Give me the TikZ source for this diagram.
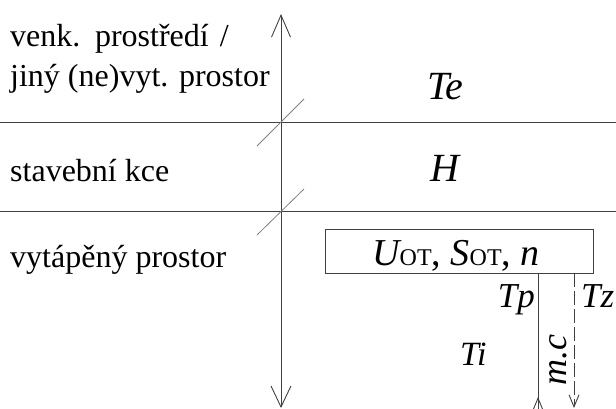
\documentclass[tikz,border=0pt]{standalone}
\usepackage{fontspec}
\newfontfamily\libser{Liberation Serif}
\usetikzlibrary{arrows.meta}
\newcommand\iv[2]{{\libser\itshape\fontsize{#1}{#1}\selectfont #2}}
\tikzset{
  ln/.style={draw=black!75, line width=0.9pt},
  slash/.style={draw=black!50, line width=0.8pt},
  lbl/.style={font=\libser\fontsize{32}{32}\selectfont, anchor=base west, inner sep=0pt},
  var/.style={inner sep=0pt}
}
\begin{document}
\begin{tikzpicture}[x=1pt,y=-1pt]
\useasboundingbox (0,0) rectangle (616,409);
% axis
\coordinate (atop) at (281,14);
\coordinate (abot) at (281,408);
\draw[ln, {Straight Barb[length=22pt,width=19pt]}-{Straight Barb[length=21pt,width=20pt]}] (atop) -- (abot);
% horizontal lines
\coordinate (h1w) at (0,122); \coordinate (h1e) at (616,122);
\coordinate (h2w) at (0,211); \coordinate (h2e) at (616,211);
\draw[ln] (h1w) -- (h1e);
\draw[ln] (h2w) -- (h2e);
% slashes
\coordinate (s1a) at (257,146); \coordinate (s1b) at (304,99);
\coordinate (s2a) at (257,235); \coordinate (s2b) at (304,189);
\draw[slash] (s1a) -- (s1b);
\draw[slash] (s2a) -- (s2b);
% left labels
\node[lbl] (l1) at (10,47) {venk.\hspace{4pt} prostředí\hspace{3pt} /};
\node[lbl] (l2) at (10,87) {jiný (ne)vyt. prostor};
\node[lbl] (l3) at (10,182) {stavební kce};
\node[lbl] (l4) at (10,267) {vytápěný prostor};
% variables
\node[var, anchor=base west] (te) at (427,100) {\iv{40}{Te}};
\node[var, anchor=base west] (h) at (430,182) {\iv{40}{H}};
% box
\node[ln, draw, minimum width=268pt, minimum height=44pt, anchor=north west, inner sep=0pt] (box) at (325,229) {};
\node[var, anchor=base] (boxt) at (456,265) {\libser\fontsize{38}{38}\selectfont{\itshape U}{\fontsize{24}{24}\selectfont OT}, {\itshape S}{\fontsize{24}{24}\selectfont OT}, {\itshape n}};
% flows
\coordinate (p1) at (538,273);
\coordinate (p2) at (538,409);
\coordinate (p3) at (538,397);
\draw[ln] (p1) -- (p2);
\draw[ln, -{Straight Barb[length=12pt,width=10pt]}] (p2) -- (p3);
\coordinate (z1) at (574,273);
\coordinate (z2) at (574,408);
\draw[ln, dash pattern=on 14pt off 4pt, -{Straight Barb[length=12pt,width=10pt]}] (z1) -- (z2);
\node[var, anchor=base east] (tp) at (535,307) {\iv{35}{Tp}};
\node[var, anchor=base west] (tz) at (581,307) {\iv{35}{Tz}};
\node[var, anchor=base west] (ti) at (460,365) {\iv{34}{Ti}};
\node[var, rotate=90, anchor=base] (mc) at (566,360) {\iv{36}{m.c}};
\end{tikzpicture}
\end{document}
